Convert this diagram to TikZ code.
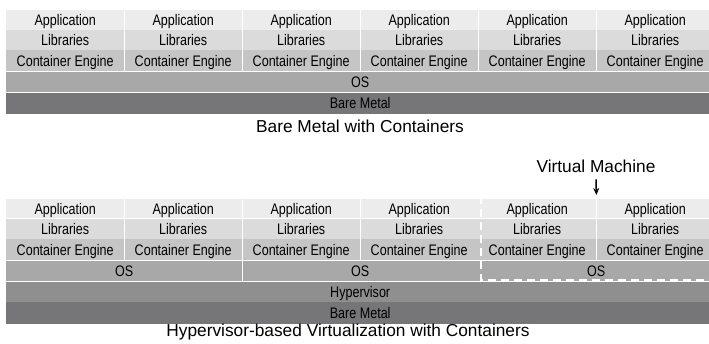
\documentclass[tikz,border=0pt]{standalone}
\usepackage{fontspec}
\setmainfont{Liberation Sans}
\newfontfamily\cellfont[FakeStretch=0.82]{Liberation Sans}
\usetikzlibrary{arrows.meta, positioning}
\definecolor{appgray}{RGB}{236,236,236}
\definecolor{libgray}{RGB}{219,219,219}
\definecolor{enggray}{RGB}{197,197,197}
\definecolor{osgray}{RGB}{168,168,168}
\definecolor{hypgray}{RGB}{143,143,143}
\definecolor{metalgray}{RGB}{118,118,121}
\pgfmathsetmacro{\colw}{118}

\begin{document}
\begin{tikzpicture}[x=1pt, y=-1pt,
		cell/.style={fill=#1, inner sep=0pt, minimum width=\colw pt, text height=10.9pt, text depth=0pt, font=\cellfont\fontsize{15.3}{16}\selectfont},
		wide/.style={cell=#1, minimum width=708pt},
		sep/.style={white, line width=1.4pt},
		vmbox/.style={white, line width=2pt, dash pattern=on 8pt off 5pt},
		caption/.style={font=\fontsize{17.3}{20}\selectfont, inner sep=0pt, anchor=base}]
		\useasboundingbox (0,0) rectangle (709,344);

		% bare metal with containers
		\foreach \i in {1,...,6} {
			\pgfmathsetmacro{\xl}{6+(\i-1)*\colw}
			\node[cell=appgray, minimum height=19.5pt, anchor=north west] (tapp\i) at (\xl,10) {Application};
			\node[cell=libgray, minimum height=20pt, anchor=north] (tlib\i) at (tapp\i.south) {Libraries};
			\node[cell=enggray, minimum height=21pt, anchor=north] (teng\i) at (tlib\i.south) {Container Engine};
		}
		\node[wide=osgray, minimum height=20.5pt, anchor=north west] (tos) at (teng1.south west) {OS};
		\node[wide=metalgray, minimum height=21.5pt, anchor=north west] (tmetal) at (tos.south west) {Bare Metal};
		\foreach \i in {1,...,5}
			\draw[sep] (tapp\i.north east) -- (teng\i.south east);
		\node[caption] (tcap) at (360,132.7) {Bare Metal with Containers};

		% hypervisor-based virtualization
		\foreach \i in {1,...,6} {
			\pgfmathsetmacro{\xl}{6+(\i-1)*\colw}
			\node[cell=appgray, minimum height=19pt, anchor=north west] (bapp\i) at (\xl,199.3) {Application};
			\node[cell=libgray, minimum height=20pt, anchor=north] (blib\i) at (bapp\i.south) {Libraries};
			\node[cell=enggray, minimum height=21pt, anchor=north] (beng\i) at (blib\i.south) {Container Engine};
		}
		\foreach \v in {1,2,3} {
			\pgfmathtruncatemacro{\first}{2*\v-1}
			\node[cell=osgray, minimum width=2*\colw, minimum height=20.7pt, anchor=north west] (bos\v) at (beng\first.south west) {OS};
		}
		\node[wide=hypgray, minimum height=20pt, anchor=north west] (bhyp) at (bos1.south west) {Hypervisor};
		\node[wide=metalgray, minimum height=21.7pt, anchor=north west] (bmetal) at (bhyp.south west) {Bare Metal};
		\foreach \i in {1,3,5}
			\draw[sep] (bapp\i.north east) -- (beng\i.south east);
		\draw[sep] (bapp2.north east) -- (bos1.south east);
		\draw[vmbox] ([shift={(2.5pt,3pt)}]bapp5.north west) rectangle ([shift={(-1pt,1.5pt)}]bos3.south east);
		\node[caption] (vmlabel) at (596,172.5) {Virtual Machine};
		\draw[line width=1.5pt, arrows={-Stealth[length=7pt, width=6pt]}] ([yshift=-6.5pt]vmlabel.south) -- ([yshift=4.3pt]bapp5.north east);
		\node[caption] (bcap) at (348,336.5) {Hypervisor-based Virtualization with Containers};
	\end{tikzpicture}
\end{document}
